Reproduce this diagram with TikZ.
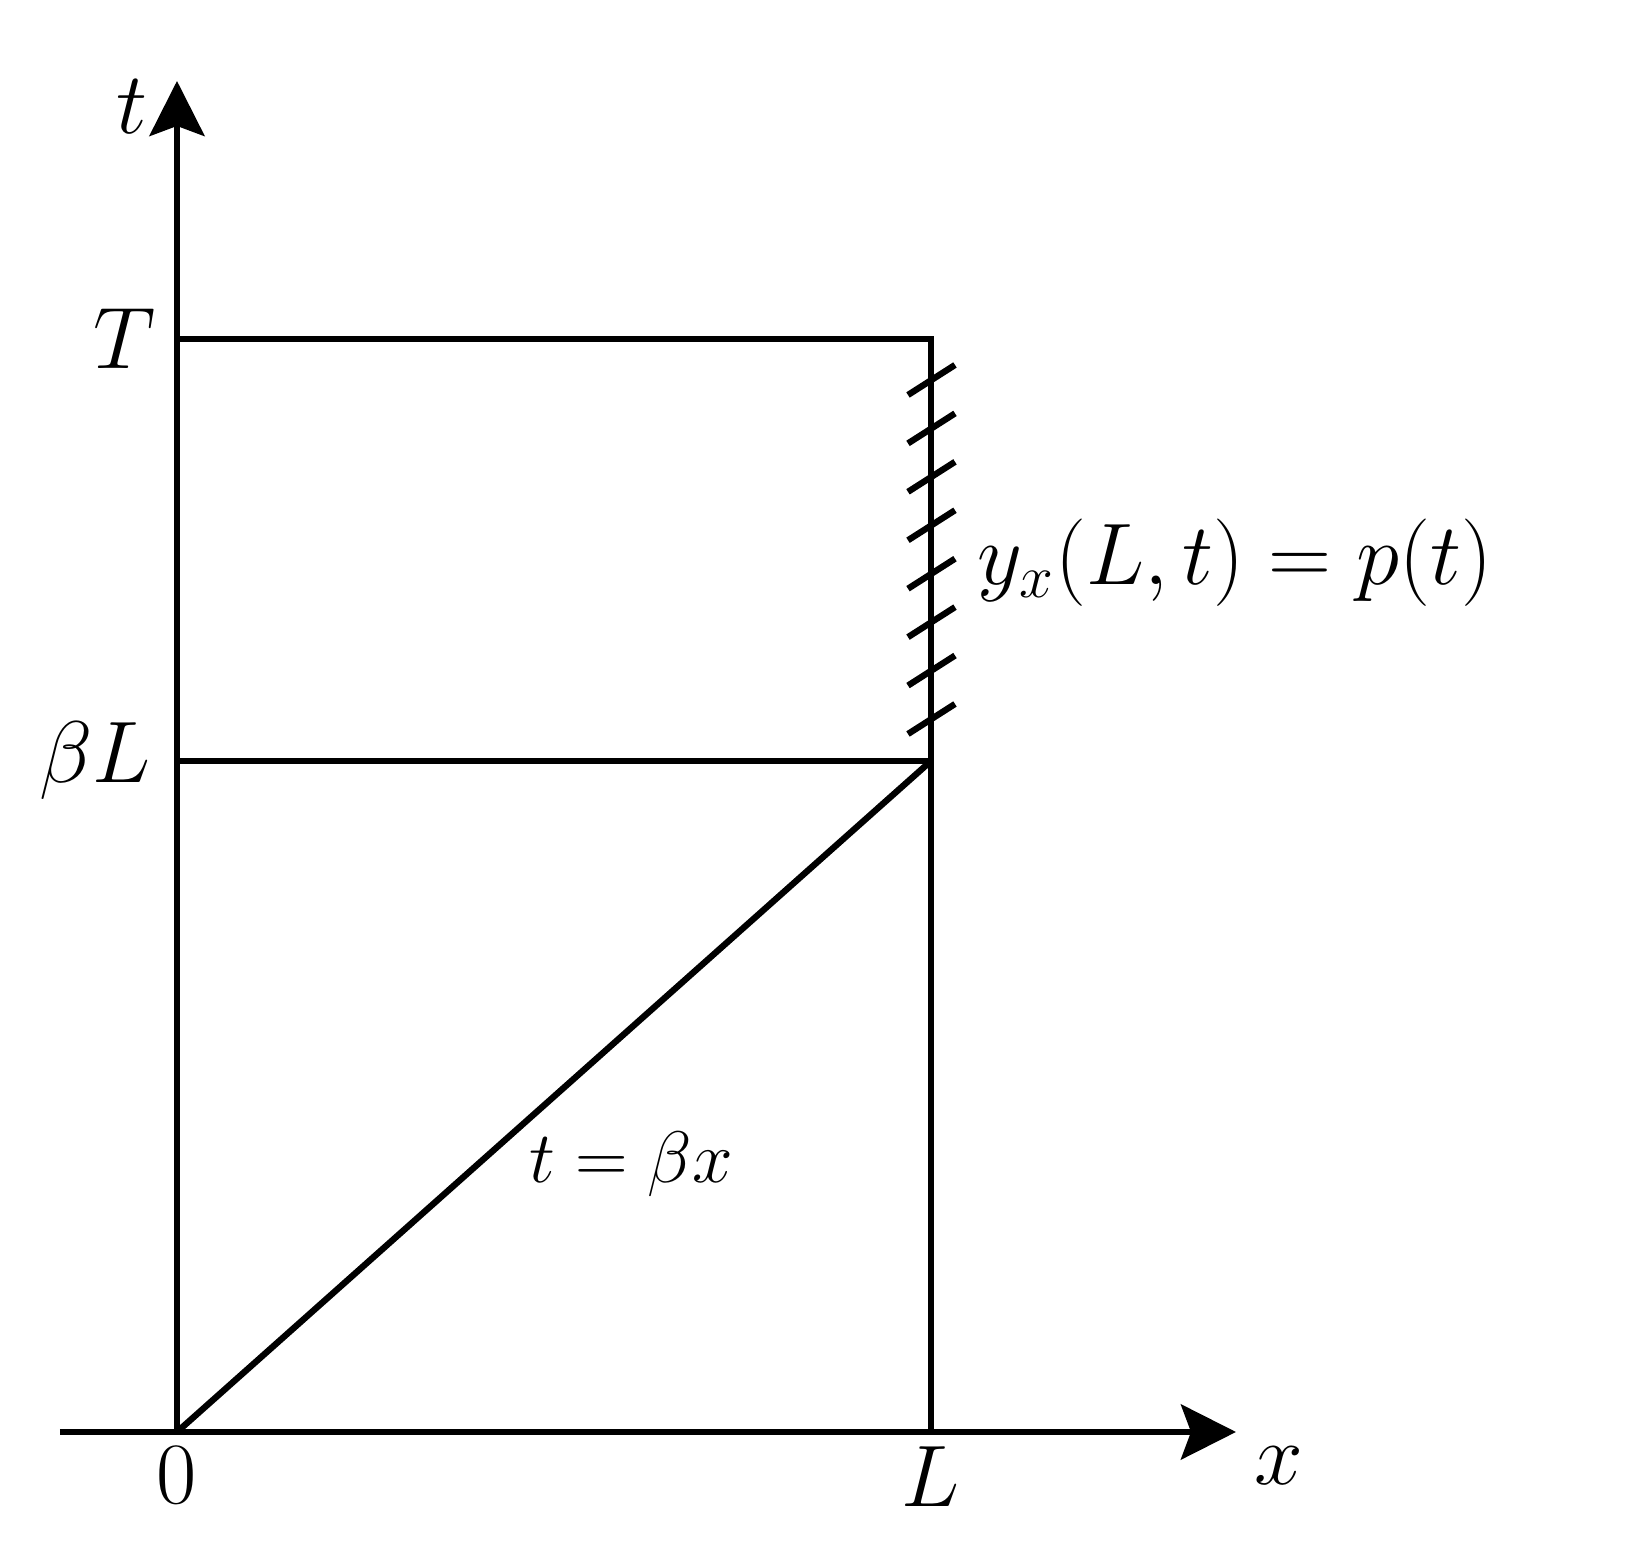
\documentclass[tikz,border=0pt]{standalone}
\usetikzlibrary{arrows.meta}
\begin{document}
\begin{tikzpicture}[line width=1.8pt,
  lbl/.style={font=\fontsize{24.5}{29}\selectfont},
  axis/.style={-{Stealth[length=5.5mm,width=5.5mm,inset=1mm]}}]
\useasboundingbox (-1.77,-1.36) rectangle (14.59,14.32);
\coordinate (O) at (0,0);
\coordinate (L) at (7.54,0);
\coordinate (T) at (0,10.93);
\coordinate (bL) at (0,6.71);
\coordinate (LT) at (7.54,10.93);
\coordinate (LbL) at (7.54,6.71);
\coordinate (xs) at (-1.17,0);
\coordinate (xe) at (10.59,0);
\coordinate (te) at (0,13.51);
% axes
\draw[axis] (xs) -- (xe);
\draw[axis] (O) -- (te);
% domain
\draw (T) -- (LT) -- (L);
\draw (bL) -- (LbL);
\draw (O) -- (LbL);
% boundary hatching
\foreach \i in {0,...,7}
  \draw (7.31,7.13+\i*0.4843-0.15) -- ++(0.47,0.30);
% labels
\node[lbl] (tl) at (-0.45,13.25) {$t$};
\node[lbl] (xl) at (11.02,-0.34) {$x$};
\node[lbl,anchor=east,xshift=-0.07cm] (Tl) at (T) {$T$};
\node[lbl,anchor=east,xshift=-0.11cm] (bLl) at (bL) {$\beta L$};
\node[lbl,below] (Ol) at (O) {$0$};
\node[lbl,below] (Ll) at (L) {$L$};
\node[font=\fontsize{21.5}{26}\selectfont] (line) at (4.54,2.68) {$t=\beta x$};
\node[lbl,anchor=west] (bc) at (7.86,8.69) {$y_x(L,t)=p(t)$};
\end{tikzpicture}
\end{document}
